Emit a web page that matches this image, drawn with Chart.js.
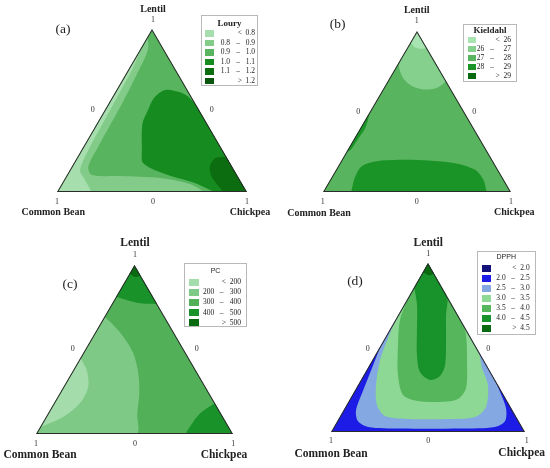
<!DOCTYPE html>
<html>
<head>
<meta charset="utf-8">
<script src="https://cdn.jsdelivr.net/npm/chart.js@4.4.1/dist/chart.umd.min.js"></script>
<style>
body { margin: 0; background: #fff; }
#wrap { position: relative; width: 550px; height: 468px; overflow: hidden; font-family: "Liberation Serif", "DejaVu Serif", serif; color: #222; }
.panel { position: absolute; width: 275px; height: 234px; }
.t { position: absolute; white-space: nowrap; transform: translate(-50%, -50%); line-height: 1; }
.name { font-weight: bold; }
.tick { font-size: 8px; color: #333; }
.tag { font-size: 13.5px; }
.legend { position: absolute; border: 1px solid #b8b8b8; background: #fff; box-sizing: border-box; font-size: 7.5px; }
.legend .ttl { position: absolute; left: 0; right: 0; text-align: center; transform: translateY(-50%); line-height: 1; font-weight: bold; font-size: 9px; }
.legend .ttl.sans { font-family: "Liberation Sans", Arial, sans-serif; font-weight: normal; font-size: 7px; }
.legend .sw { position: absolute; }
.legend .r { position: absolute; transform: translate(-100%, -50%); line-height: 1; white-space: nowrap; }
.legend .c { position: absolute; transform: translate(-50%, -50%); line-height: 1; }
</style>
</head>
<body>
<div id="wrap"></div>
<script>
// ternary points are [lentil, chickpea]; common bean = 1 - lentil - chickpea
const triangle = [[1, 0], [0, 0], [0, 1]];

// (a) Lowry
const lowryTitle = "Loury";
const lowryBreaks = [0.8, 0.9, 1.0, 1.1, 1.2];
const lowryColors = ["#a6dfad", "#82cb89", "#58b45e", "#168c20", "#0b6c10", "#0a560c"];
const lowryBase = 2;
const lowryBand = [[0.955, 0], [0.873, 0.042], [0.71, 0.06], [0.566, 0.07], [0.483, 0.073], [0.278, 0.078],
    [0.155, 0.087], [0.104, 0.132], [0.098, 0.283], [0.086, 0.499], [0.049, 0.675], [0, 0.763], [0, 0]];
const lowryEdge = [[0.9, 0], [0.75, 0.02], [0.6, 0.025], [0.483, 0.029], [0.278, 0.035], [0.135, 0.054],
    [0.074, 0.11], [0, 0.174], [0, 0]];
const lowryCore = [[0.523, 0.477], [0.585, 0.399], [0.615, 0.331], [0.626, 0.255], [0.575, 0.222], [0.5, 0.228],
    [0.42, 0.24], [0.258, 0.318], [0.178, 0.364], [0.117, 0.495], [0.055, 0.698], [0.012, 0.8], [0, 0.832], [0, 1]];
const lowryCorner = [[0.217, 0.783], [0.207, 0.729], [0.155, 0.727], [0.094, 0.767], [0.012, 0.861], [0, 0.874], [0, 1]];
const lowryLayers = [[1, lowryBand], [0, lowryEdge], [3, lowryCore], [4, lowryCorner]];

// (b) Kjeldahl
const kjelTitle = "Kieldahl";
const kjelBreaks = [26, 27, 28, 29];
const kjelColors = ["#a8e3b2", "#86d08e", "#58b45e", "#1a9426", "#0a6a10"];
const kjelBase = 2;
const kjelTop = [[0.823, 0], [0.777, 0.016], [0.705, 0.075], [0.658, 0.144], [0.637, 0.216], [0.643, 0.274],
    [0.674, 0.304], [0.699, 0.301], [1, 0]];
const kjelApex = [[0.932, 0], [0.901, 0.036], [0.889, 0.082], [0.901, 0.099], [1, 0]];
const kjelBottom = [[0, 0.15], [0.087, 0.125], [0.159, 0.125], [0.19, 0.183], [0.2, 0.319], [0.196, 0.463],
    [0.179, 0.613], [0.138, 0.74], [0.076, 0.815], [0, 0.871]];
const kjelSide = [[0.499, 0], [0.406, 0.025], [0.334, 0.022], [0.266, 0.017], [0.245, 0]];
const kjelLayers = [[1, kjelTop], [0, kjelApex], [3, kjelBottom], [3, kjelSide]];

// (c) PC
const pcTitle = "PC";
const pcBreaks = [200, 300, 400, 500];
const pcColors = ["#a4dcab", "#7ec986", "#52b058", "#19922a", "#0a6a10"];
const pcBase = 2;
const pcLeft = [[0.694, 0], [0.665, 0.043], [0.576, 0.155], [0.478, 0.255], [0.359, 0.34], [0.241, 0.404],
    [0.122, 0.453], [0, 0.508], [0, 0]];
const pcLens = [[0.45, 0], [0.379, 0.068], [0.28, 0.125], [0.182, 0.132], [0.102, 0.088], [0.056, 0.026], [0.041, 0]];
const pcTop = [[0.812, 0], [0.793, 0.064], [0.773, 0.141], [0.77, 0.2], [0.773, 0.227], [1, 0]];
const pcApex = [[0.949, 0], [0.929, 0.037], [0.941, 0.059], [1, 0]];
const pcCorner = [[0.182, 0.818], [0.122, 0.771], [0.043, 0.76], [0, 0.765], [0, 1]];
const pcLayers = [[1, pcLeft], [0, pcLens], [3, pcTop], [4, pcApex], [3, pcCorner]];

// (d) DPPH
const dpphTitle = "DPPH";
const dpphBreaks = [2.0, 2.5, 3.0, 3.5, 4.0, 4.5];
const dpphColors = ["#12127a", "#1c1ce6", "#84a8e2", "#8cd894", "#56b65c", "#18922a", "#0a6a10"];
const dpphBase = 1;
const dpphRing = [[0.515, 0], [0.379, 0.022], [0.231, 0.045], [0.13, 0.064], [0.065, 0.106], [0.03, 0.176],
    [0.021, 0.346], [0.021, 0.655], [0.03, 0.83], [0.065, 0.865], [0.142, 0.831], [0.237, 0.753], [0.32, 0.68], [1, 0]];
const dpphLight = [[0.675, 0], [0.556, 0.016], [0.426, 0.04], [0.278, 0.093], [0.16, 0.157], [0.095, 0.231],
    [0.077, 0.369], [0.077, 0.549], [0.089, 0.698], [0.148, 0.725], [0.278, 0.67], [0.379, 0.589], [0.485, 0.515], [1, 0]];
const dpphMid = [[0.799, 0], [0.663, 0.024], [0.515, 0.088], [0.337, 0.177], [0.219, 0.262], [0.183, 0.357],
    [0.178, 0.473], [0.195, 0.557], [0.26, 0.566], [0.426, 0.488], [0.574, 0.409], [0.651, 0.349], [1, 0]];
const dpphHigh = [[0.858, 0], [0.751, 0.068], [0.604, 0.141], [0.456, 0.215], [0.355, 0.281], [0.308, 0.356],
    [0.331, 0.396], [0.396, 0.39], [0.544, 0.321], [0.692, 0.247], [0.805, 0.195], [1, 0]];
const dpphApex = [[0.947, 0], [0.927, 0.041], [0.941, 0.059], [1, 0]];
const dpphLayers = [[2, dpphRing], [3, dpphLight], [4, dpphMid], [5, dpphHigh], [6, dpphApex]];

const panels = [
    { tag: "(a)", left: 0, top: 0, pad: { left: 57, right: 28, top: 29, bottom: 42 },
      title: lowryTitle, breaks: lowryBreaks, digits: 1, colors: lowryColors, base: lowryBase, layers: lowryLayers,
      labels: { lentil: [153, 9], top1: [153, 20], left0: [92.7, 110], right0: [211.7, 110], bl: [57, 201.7], mid: [153, 201.7], br: [247, 201.7], bean: [53.3, 211.7], chick: [250, 211.7], tag: [63, 29], size: 10 },
      legend: { left: 201, top: 15, w: 57, h: 71, ty: 7, y0: 17.3, step: 9.5, sx: 3.3, sw: 9, sh: 6.5, a: 28, b: 36, c: 53, sans: false } },
    { tag: "(b)", left: 275, top: 0, pad: { left: 48, right: 39, top: 31, bottom: 42 },
      title: kjelTitle, breaks: kjelBreaks, digits: 0, colors: kjelColors, base: kjelBase, layers: kjelLayers,
      labels: { lentil: [416.7, 10], top1: [416.7, 21], left0: [358.3, 111.7], right0: [474.3, 111.7], bl: [322.7, 201.7], mid: [416.7, 201.7], br: [511, 201.7], bean: [319, 212.7], chick: [514.3, 211.7], tag: [337.7, 24], size: 10 },
      legend: { left: 463, top: 24, w: 54, h: 58, ty: 4.5, y0: 15, step: 9, sx: 3.5, sw: 8.5, sh: 6.5, a: 20.3, b: 28, c: 47, sans: false } },
    { tag: "(c)", left: 0, top: 234, pad: { left: 36, right: 42, top: 31, bottom: 34 },
      title: pcTitle, breaks: pcBreaks, digits: 0, colors: pcColors, base: pcBase, layers: pcLayers,
      labels: { lentil: [135, 243], top1: [135, 254.7], left0: [72.7, 349], right0: [196.7, 349], bl: [36, 444], mid: [135, 444], br: [233.3, 444], bean: [40, 454.7], chick: [224, 454.7], tag: [70, 284], size: 11.5 },
      legend: { left: 184, top: 263, w: 63, h: 64, ty: 6, y0: 18, step: 10.2, sx: 4.3, sw: 10, sh: 7, a: 29.3, b: 36.7, c: 56, sans: true } },
    { tag: "(d)", left: 275, top: 234, pad: { left: 56, right: 25, top: 29, bottom: 36 },
      title: dpphTitle, breaks: dpphBreaks, digits: 1, colors: dpphColors, base: dpphBase, layers: dpphLayers,
      labels: { lentil: [428.3, 243], top1: [428.3, 254], left0: [367.7, 349], right0: [488.3, 349], bl: [331, 441.3], mid: [428.3, 441], br: [526.7, 441], bean: [331, 454], chick: [521.7, 453], tag: [355, 280.7], size: 11.5 },
      legend: { left: 477, top: 251, w: 58.5, h: 84, ty: 4, y0: 16.3, step: 10, sx: 3.7, sw: 9, sh: 7, a: 27.7, b: 35, c: 51.7, sans: true } }
];

const wrap = document.getElementById("wrap");

function toXY(pts) {
    return pts.map(p => ({ x: p[1] + p[0] / 2, y: p[0] }));
}

// keep the contour fills inside the triangle
const triClip = {
    id: "triClip",
    beforeDatasetsDraw(chart) {
        const x = chart.scales.x, y = chart.scales.y, ctx = chart.ctx;
        ctx.save();
        ctx.beginPath();
        ctx.moveTo(x.getPixelForValue(0.5), y.getPixelForValue(1));
        ctx.lineTo(x.getPixelForValue(0), y.getPixelForValue(0));
        ctx.lineTo(x.getPixelForValue(1), y.getPixelForValue(0));
        ctx.closePath();
        ctx.clip();
    },
    afterDatasetsDraw(chart) {
        chart.ctx.restore();
    }
};

function addText(txt, pos, cls, size) {
    let d = document.createElement("div");
    d.className = "t " + cls;
    d.textContent = txt;
    d.style.left = pos[0] + "px";
    d.style.top = pos[1] + "px";
    if (size) d.style.fontSize = size + "px";
    wrap.appendChild(d);
}

function fmt(v, digits) {
    return v.toFixed(digits);
}

function addLegend(p) {
    let g = p.legend;
    let box = document.createElement("div");
    box.className = "legend";
    box.style.left = g.left + "px";
    box.style.top = g.top + "px";
    box.style.width = g.w + "px";
    box.style.height = g.h + "px";

    let html = `<div class="ttl${g.sans ? " sans" : ""}" style="top:${g.ty}px">${p.title}</div>`;
    let n = p.breaks.length;
    for (let i = 0; i <= n; i++) {
        let y = g.y0 + i * g.step;
        html += `<div class="sw" style="left:${g.sx}px;top:${y - g.sh / 2}px;width:${g.sw}px;height:${g.sh}px;background:${p.colors[i]}"></div>`;
        if (i === 0) {
            html += `<div class="r" style="left:${g.c}px;top:${y}px">&lt;&nbsp;&nbsp;${fmt(p.breaks[0], p.digits)}</div>`;
        } else if (i === n) {
            html += `<div class="r" style="left:${g.c}px;top:${y}px">&gt;&nbsp;&nbsp;${fmt(p.breaks[n - 1], p.digits)}</div>`;
        } else {
            html += `<div class="r" style="left:${g.a}px;top:${y}px">${fmt(p.breaks[i - 1], p.digits)}</div>`;
            html += `<div class="c" style="left:${g.b}px;top:${y}px">–</div>`;
            html += `<div class="r" style="left:${g.c}px;top:${y}px">${fmt(p.breaks[i], p.digits)}</div>`;
        }
    }
    box.innerHTML = html;
    wrap.appendChild(box);
}

panels.forEach(p => {
    let div = document.createElement("div");
    div.className = "panel";
    div.style.left = p.left + "px";
    div.style.top = p.top + "px";
    let canvas = document.createElement("canvas");
    canvas.width = 275;
    canvas.height = 234;
    div.appendChild(canvas);
    wrap.appendChild(div);

    let layers = [[p.base, triangle]].concat(p.layers);
    let datasets = layers.map((layer, i) => ({
        data: toXY(layer[1]),
        showLine: true,
        fill: "shape",
        backgroundColor: p.colors[layer[0]],
        borderColor: "rgba(0,0,0,0)",
        borderWidth: 0,
        pointRadius: 0,
        tension: i === 0 ? 0 : 0.3,
        order: -i
    }));
    datasets.push({
        data: toXY(triangle.concat([triangle[0]])),
        showLine: true,
        fill: false,
        borderColor: "#2b2b2b",
        borderWidth: 2,
        pointRadius: 0,
        tension: 0,
        order: -100
    });

    new Chart(canvas, {
        type: "scatter",
        data: { datasets: datasets },
        options: {
            responsive: false,
            animation: false,
            layout: { padding: p.pad },
            plugins: { legend: { display: false }, tooltip: { enabled: false } },
            scales: {
                x: { type: "linear", min: 0, max: 1, display: false },
                y: { type: "linear", min: 0, max: 1, display: false }
            }
        },
        plugins: [triClip]
    });

    let L = p.labels;
    addText("Lentil", L.lentil, "name", L.size);
    addText("1", L.top1, "tick");
    addText("0", L.left0, "tick");
    addText("0", L.right0, "tick");
    addText("1", L.bl, "tick");
    addText("0", L.mid, "tick");
    addText("1", L.br, "tick");
    addText("Common Bean", L.bean, "name", L.size);
    addText("Chickpea", L.chick, "name", L.size);
    addText(p.tag, L.tag, "tag");
    addLegend(p);
});
</script>
</body>
</html>
